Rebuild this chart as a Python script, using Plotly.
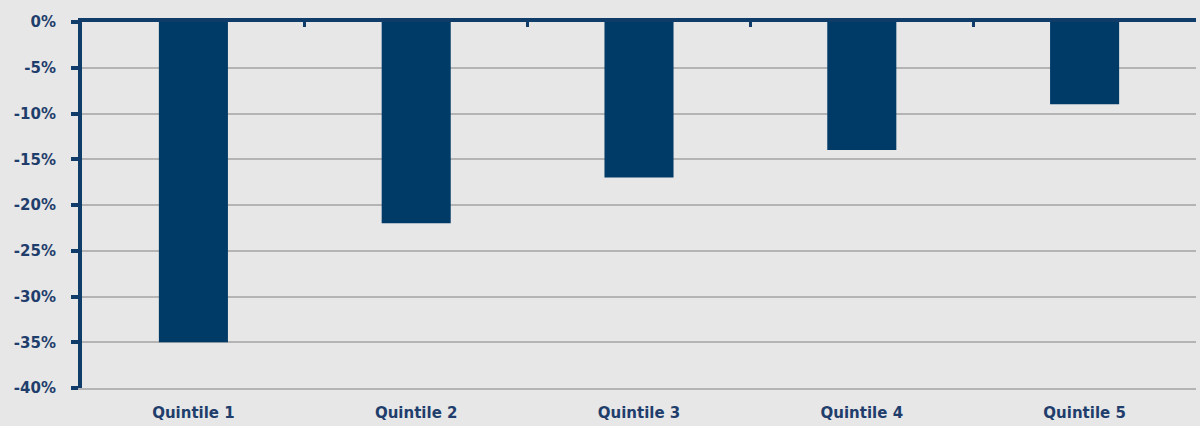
import plotly.graph_objects as go

categories = ["Quintile 1", "Quintile 2", "Quintile 3", "Quintile 4", "Quintile 5"]
values = [-35, -22, -17, -14, -9]
y_tick_vals = [0, -5, -10, -15, -20, -25, -30, -35, -40]
y_tick_text = ["0%", "-5%", "-10%", "-15%", "-20%", "-25%", "-30%", "-35%", "-40%"]

NAVY = "#003a66"
AXIS = "#0f3c68"
TEXT = "#1f3e6c"
BG = "#e7e7e7"
GRID = "#b4b4b4"

fig = go.Figure()
fig.add_trace(go.Bar(x=categories, y=values, marker=dict(color=NAVY, line=dict(width=0)),
                     showlegend=False, hoverinfo="skip"))
fig.add_trace(go.Bar(x=categories, y=[None] * len(categories), xaxis="x2",
                     showlegend=False, hoverinfo="skip"))

font = dict(family="DejaVu Sans", size=15, color=TEXT, weight="bold")

fig.update_layout(
    width=1200, height=426,
    margin=dict(l=82, r=4, t=22, b=35),
    paper_bgcolor=BG, plot_bgcolor=BG,
    bargap=0.69,
    xaxis=dict(type="category", showline=True, linecolor=GRID, linewidth=1.5,
               showgrid=False, ticks="",
               tickfont=font, ticklabelstandoff=10),
    xaxis2=dict(type="category", overlaying="x", side="top", matches="x",
                showline=True, linecolor=AXIS, linewidth=4,
                ticks="inside", tickson="boundaries", ticklen=5, tickwidth=3,
                tickcolor=AXIS, showticklabels=False, showgrid=False),
    yaxis=dict(range=[-40, 0], tickvals=y_tick_vals, ticktext=y_tick_text,
               showline=True, linecolor=AXIS, linewidth=4,
               ticks="outside", ticklen=7, tickwidth=4, tickcolor=AXIS,
               showgrid=True, gridcolor=GRID, gridwidth=1.5,
               zeroline=False, tickfont=font, ticklabelstandoff=12),
)

fig.write_html("out.html", config={"displayModeBar": False},
               post_script="document.body.style.margin='0';document.body.style.overflow='hidden';")
